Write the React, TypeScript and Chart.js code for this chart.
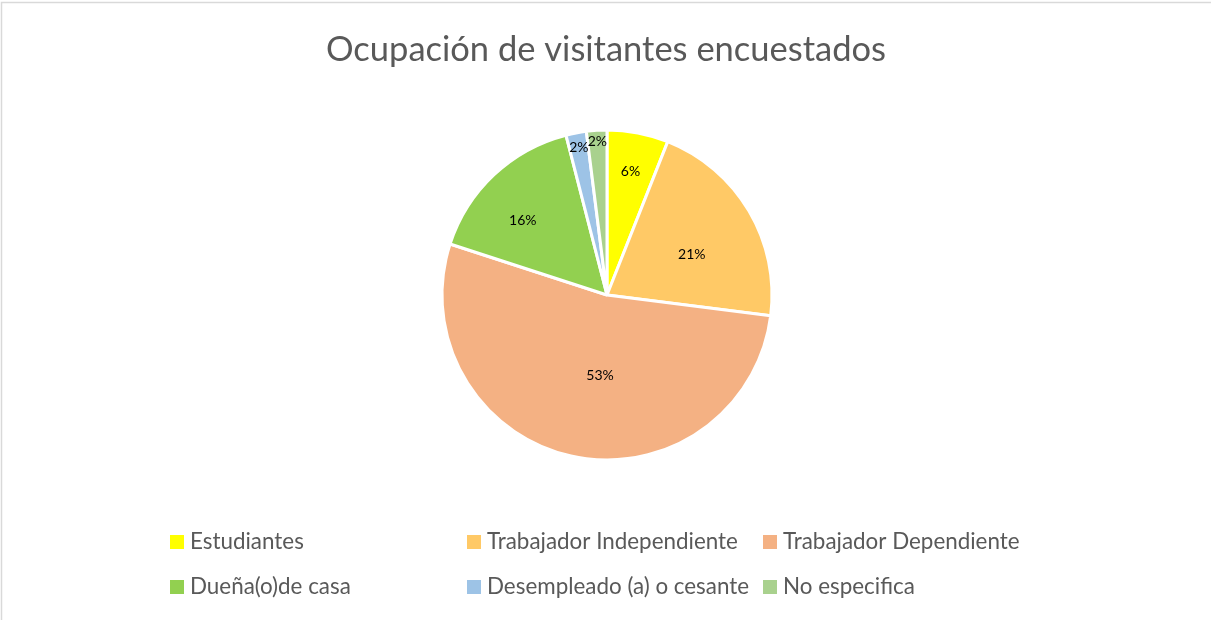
import React, { useEffect, useRef } from "react";
import { Chart, registerables } from "chart.js";

Chart.register(...registerables);

const TITLE = "Ocupación de visitantes encuestados";
const categories = [
  "Estudiantes",
  "Trabajador Independiente",
  "Trabajador Dependiente",
  "Dueña(o)de casa",
  "Desempleado (a) o cesante",
  "No especifica",
];
const values = [6, 21, 53, 16, 2, 2];
const colors = ["#FFFF00", "#FFC966", "#F4B183", "#92D050", "#9DC3E6", "#A9D18E"];
// label placement (style): radial fraction of the radius and angular nudge in degrees
const labelRadius = [0.76, 0.57, 0.49, 0.68, 0.91, 0.93];
const labelNudge = [0, 5, -7.7, -5.4, 0, 0];

const FONT = "Lato, 'Open Sans', sans-serif";
const TEXT_COLOR = "#595959";

const legendCols = [170, 467, 763];
const legendRows = [549, 594];

export default function App() {
  const ref = useRef<HTMLCanvasElement | null>(null);

  useEffect(() => {
    document.body.style.margin = "0";
    const canvas = ref.current!;
    const total = values.reduce((a, b) => a + b, 0);

    const decor = {
      id: "decor",
      beforeDraw(chart: any) {
        const ctx = chart.ctx;
        ctx.save();
        ctx.fillStyle = "#ffffff";
        ctx.fillRect(0, 0, chart.width, chart.height);
        ctx.strokeStyle = "#d9d9d9";
        ctx.lineWidth = 1.5;
        ctx.strokeRect(1.5, 2.5, chart.width + 10, chart.height + 10);
        ctx.restore();
      },
      afterDraw(chart: any) {
        const ctx = chart.ctx;
        ctx.save();
        // title
        ctx.fillStyle = TEXT_COLOR;
        ctx.font = `34.5px ${FONT}`;
        ctx.textAlign = "center";
        ctx.textBaseline = "alphabetic";
        ctx.fillText(TITLE, 606, 61);

        // data labels
        const meta = chart.getDatasetMeta(0);
        ctx.fillStyle = "#000000";
        ctx.font = `14px ${FONT}`;
        ctx.textAlign = "center";
        ctx.textBaseline = "middle";
        meta.data.forEach((arc: any, i: number) => {
          const p = arc.getProps(["x", "y", "startAngle", "endAngle", "outerRadius"], true);
          const mid = (p.startAngle + p.endAngle) / 2 + (labelNudge[i] * Math.PI) / 180;
          const r = p.outerRadius * labelRadius[i];
          const pct = Math.round((values[i] / total) * 100) + "%";
          ctx.fillText(pct, p.x + Math.cos(mid) * r, p.y + Math.sin(mid) * r);
        });

        // legend
        ctx.font = `22.4px ${FONT}`;
        ctx.textAlign = "left";
        ctx.textBaseline = "alphabetic";
        categories.forEach((c, i) => {
          const x = legendCols[i % 3];
          const y = legendRows[Math.floor(i / 3)];
          ctx.fillStyle = colors[i];
          ctx.fillRect(x, y - 14, 14, 14);
          ctx.fillStyle = TEXT_COLOR;
          ctx.fillText(c, x + 20, y);
        });
        ctx.restore();
      },
    };

    const chart = new Chart(canvas, {
      type: "pie",
      data: {
        labels: categories,
        datasets: [
          {
            data: values,
            backgroundColor: colors,
            borderColor: "#ffffff",
            borderWidth: 3,
            radius: 165,
          },
        ],
      },
      options: {
        responsive: false,
        animation: false,
        layout: { padding: { left: 300, right: 297, top: 100, bottom: 130 } },
        plugins: {
          legend: { display: false },
          title: { display: false },
          tooltip: { enabled: false },
        },
      },
      plugins: [decor],
    });
    return () => chart.destroy();
  }, []);

  return (
    <div style={{ position: "absolute", left: 0, top: 0, width: 1211, height: 620 }}>
      <canvas ref={ref} width={1211} height={620} />
    </div>
  );
}
